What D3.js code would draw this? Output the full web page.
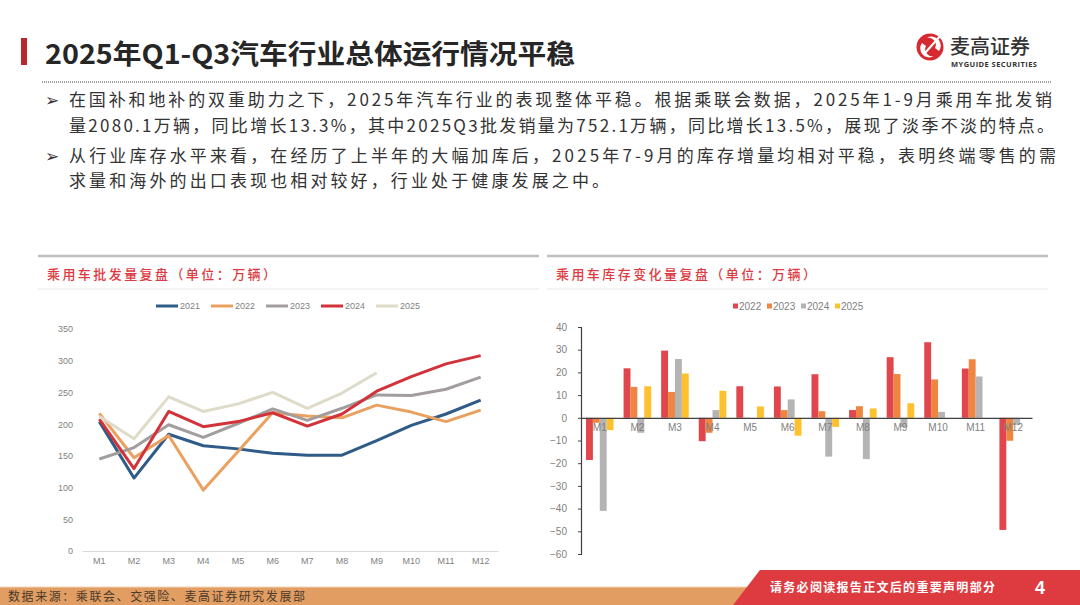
<!DOCTYPE html>
<html>
<head>
<meta charset="utf-8">
<script src="https://cdn.jsdelivr.net/npm/d3@7/dist/d3.min.js"></script>
<style>
  html, body { margin: 0; padding: 0; background: #fff; }
  svg { display: block; }
  text { font-family: "Noto Sans CJK SC", "Noto Sans", sans-serif; }
  .tick text { font-family: "Liberation Sans", Arial, sans-serif; }
</style>
</head>
<body>
<div id="page"></div>
<script>
// 乘用车批发量（万辆）
const months = ['M1', 'M2', 'M3', 'M4', 'M5', 'M6', 'M7', 'M8', 'M9', 'M10', 'M11', 'M12']
const wholesaleYears = ['2021', '2022', '2023', '2024', '2025']
const wholesale2021 = [204, 115, 184, 166, 161, 154, 151, 151, 174, 198, 216, 238]
const wholesale2022 = [217, 147, 182, 96, 157, 218, 213, 210, 230, 219, 204, 222]
const wholesale2023 = [145, 163, 199, 179, 201, 224, 206, 225, 246, 245, 255, 274]
const wholesale2024 = [208, 130, 220, 196, 204, 218, 197, 216, 252, 275, 295, 308]
const wholesale2025 = [212, 177, 243, 220, 232, 250, 225, 249, 281, null, null, null]
const wholesaleTicks = [0, 50, 100, 150, 200, 250, 300, 350]

// 乘用车库存变化量（万辆）
const inventoryYears = ['2022', '2023', '2024', '2025']
const inventory2022 = [-18.6, 21.8, 29.6, -10.3, 13.9, 13.8, 19.2, 3.4, 26.7, 33.3, 21.7, -49.4]
const inventory2023 = [-2.2, 13.6, 11.4, -6.6, -0.4, 3.4, 2.9, 5.1, 19.3, 16.9, 25.8, -10.1]
const inventory2024 = [-41.0, -6.6, 25.9, 3.4, 0, 8.1, -17.1, -18.2, -4.1, 2.6, 18.2, -3.2]
const inventory2025 = [-5.4, 13.9, 19.5, 11.9, 5.0, -7.9, -4.0, 4.1, 6.4, null, null, null]
const inventoryTicks = [-60, -50, -40, -30, -20, -10, 0, 10, 20, 30, 40]

const bodyLines = [
    '在国补和地补的双重助力之下，2025年汽车行业的表现整体平稳。根据乘联会数据，2025年1-9月乘用车批发销',
    '量2080.1万辆，同比增长13.3%，其中2025Q3批发销量为752.1万辆，同比增长13.5%，展现了淡季不淡的特点。',
    '从行业库存水平来看，在经历了上半年的大幅加库后，2025年7-9月的库存增量均相对平稳，表明终端零售的需',
    '求量和海外的出口表现也相对较好，行业处于健康发展之中。'
]

const W = 1080
const H = 605
const svg = d3.select('#page').append('svg')
    .attr('width', W)
    .attr('height', H)

function drawHeader () {
    // 标题
    svg.append('rect')
        .attr('x', 21).attr('y', 38)
        .attr('width', 6).attr('height', 27)
        .attr('fill', '#B8282E')
    svg.append('text')
        .attr('x', 45).attr('y', 64)
        .attr('font-size', 27)
        .attr('font-weight', 700)
        .attr('fill', '#262626')
        .attr('textLength', 530)
        .attr('lengthAdjust', 'spacingAndGlyphs')
        .text('2025年Q1-Q3汽车行业总体运行情况平稳')

    svg.append('line')
        .attr('x1', 42).attr('x2', 1052)
        .attr('y1', 82).attr('y2', 82)
        .attr('stroke', '#808080')
        .attr('stroke-width', 1.5)
        .attr('stroke-dasharray', '1 1')

    // logo
    const logo = svg.append('g').attr('transform', 'translate(930, 47)')
    logo.append('circle').attr('r', 13.5).attr('fill', '#D62A30')
    logo.append('path')
        .attr('d', 'M -8 -4 A 9 9 0 0 0 4 9 A 7 7 0 0 1 -4 -1 Z')
        .attr('fill', '#fff')
    logo.append('path')
        .attr('d', 'M 9 4 A 9 9 0 0 0 -3 -9 A 7 7 0 0 1 5 1 Z')
        .attr('fill', '#fff')
    logo.append('line')
        .attr('x1', -5).attr('y1', 6).attr('x2', 11).attr('y2', -12)
        .attr('stroke', '#fff').attr('stroke-width', 2)
    svg.append('text')
        .attr('x', 950).attr('y', 54)
        .attr('font-size', 20)
        .attr('font-weight', 500)
        .attr('fill', '#333')
        .attr('textLength', 80)
        .text('麦高证券')
    svg.append('text')
        .attr('x', 951).attr('y', 67)
        .attr('font-size', 7.5)
        .attr('font-weight', 700)
        .attr('fill', '#333')
        .attr('textLength', 86)
        .style('font-family', '"Open Sans", sans-serif')
        .text('MYGUIDE SECURITIES')

    // 正文
    const baselines = [106, 132, 162, 187]
    const lengths = [983, 985, 987, 540]
    ;[0, 2].forEach(i => {
        svg.append('text')
            .attr('x', 45).attr('y', baselines[i])
            .attr('font-size', 17)
            .attr('fill', '#333')
            .style('font-family', '"DejaVu Sans", sans-serif')
            .text('➢')
    })
    bodyLines.forEach((line, i) => {
        svg.append('text')
            .attr('x', 69).attr('y', baselines[i])
            .attr('font-size', 17)
            .attr('fill', '#333')
            .attr('textLength', lengths[i])
            .attr('lengthAdjust', 'spacing')
            .text(line)
    })
}

function drawPanel (x0, x1, title, titleLen) {
    svg.append('line')
        .attr('x1', x0).attr('x2', x1)
        .attr('y1', 256).attr('y2', 256)
        .attr('stroke', '#BFBFBF').attr('stroke-width', 2.5)
    svg.append('line')
        .attr('x1', x0).attr('x2', x1)
        .attr('y1', 289).attr('y2', 289)
        .attr('stroke', '#E6E6E6').attr('stroke-width', 1)
    svg.append('text')
        .attr('x', x0 + 9).attr('y', 279)
        .attr('font-size', 13)
        .attr('font-weight', 500)
        .attr('fill', '#DE3A42')
        .attr('textLength', titleLen)
        .attr('lengthAdjust', 'spacing')
        .text(title)
}

function drawLineChart () {
    const series = [wholesale2021, wholesale2022, wholesale2023, wholesale2024, wholesale2025]
    const colors = ['#2F5B88', '#EAA15F', '#A39E9E', '#D2323A', '#DEDBC9']

    const x = d3.scaleBand().domain(months).range([82, 498])
    const y = d3.scaleLinear().domain([0, 350]).range([551, 329])

    svg.append('g')
        .attr('transform', 'translate(82, 0)')
        .call(d3.axisLeft(y).tickValues(wholesaleTicks).tickSize(0).tickPadding(9))
        .call(g => g.select('.domain').remove())
        .call(g => g.selectAll('text').attr('font-size', 9).attr('fill', '#7F7F7F'))

    svg.append('g')
        .attr('transform', 'translate(0, 551)')
        .call(d3.axisBottom(x).tickSize(0).tickPadding(7))
        .call(g => g.select('.domain').attr('stroke', '#D9D9D9'))
        .call(g => g.selectAll('text').attr('font-size', 9).attr('fill', '#7F7F7F'))

    const line = d3.line()
        .defined(d => d != null)
        .x((d, i) => x(months[i]) + x.bandwidth() / 2)
        .y(d => y(d))

    svg.append('g')
        .selectAll('path')
        .data(series)
        .enter()
        .append('path')
        .attr('fill', 'none')
        .attr('stroke', (d, i) => colors[i])
        .attr('stroke-width', 3)
        .attr('stroke-linejoin', 'round')
        .attr('d', line)

    // 图例
    const legend = svg.append('g')
        .selectAll('g')
        .data(wholesaleYears)
        .enter()
        .append('g')
        .attr('transform', (d, i) => `translate(${156 + i * 55}, 306)`)
    legend.append('line')
        .attr('x1', 0).attr('x2', 22)
        .attr('stroke', (d, i) => colors[i])
        .attr('stroke-width', 3)
    legend.append('text')
        .attr('x', 24).attr('dy', '0.35em')
        .attr('font-size', 9)
        .attr('fill', '#7F7F7F')
        .style('font-family', '"Liberation Sans", Arial, sans-serif')
        .text(d => d)
}

function drawBarChart () {
    const series = [inventory2022, inventory2023, inventory2024, inventory2025]
    const colors = ['#E0464C', '#EE8641', '#B4B4B4', '#FFC02D']

    const x = d3.scaleBand().domain(months).range([581, 1032])
    const xSub = d3.scaleBand().domain(inventoryYears).range([5, x.bandwidth() - 5])
    const y = d3.scaleLinear().domain([-60, 40]).range([554, 327])

    const bars = []
    series.forEach((vals, s) => {
        vals.forEach((v, i) => {
            if (v != null) bars.push({ month: months[i], year: inventoryYears[s], value: v, color: colors[s] })
        })
    })

    svg.append('g')
        .selectAll('rect')
        .data(bars)
        .enter()
        .append('rect')
        .attr('x', d => x(d.month) + xSub(d.year))
        .attr('width', xSub.bandwidth())
        .attr('y', d => y(Math.max(d.value, 0)))
        .attr('height', d => Math.abs(y(d.value) - y(0)))
        .attr('fill', d => d.color)

    svg.append('g')
        .attr('transform', 'translate(581, 0)')
        .call(d3.axisLeft(y).tickValues(inventoryTicks).tickSize(3).tickPadding(11))
        .call(g => g.select('.domain').attr('stroke', '#404040').attr('stroke-width', 1.2))
        .call(g => g.selectAll('.tick line').attr('stroke', '#404040'))
        .call(g => g.selectAll('text').attr('font-size', 10).attr('fill', '#7F7F7F'))

    svg.append('g')
        .attr('transform', `translate(0, ${y(0)})`)
        .call(d3.axisBottom(x).tickSize(0).tickPadding(6))
        .call(g => g.select('.domain').attr('stroke', '#404040').attr('stroke-width', 1.2))
        .call(g => g.selectAll('text').attr('font-size', 10).attr('fill', '#7F7F7F'))

    // 图例
    const legend = svg.append('g')
        .selectAll('g')
        .data(inventoryYears)
        .enter()
        .append('g')
        .attr('transform', (d, i) => `translate(${733 + i * 34}, 306)`)
    legend.append('rect')
        .attr('x', 0).attr('y', -2.5)
        .attr('width', 5).attr('height', 5)
        .attr('fill', (d, i) => colors[i])
    legend.append('text')
        .attr('x', 6).attr('dy', '0.35em')
        .attr('font-size', 10)
        .attr('fill', '#7F7F7F')
        .style('font-family', '"Liberation Sans", Arial, sans-serif')
        .text(d => d)
}

function drawFooter () {
    svg.append('rect')
        .attr('x', 0).attr('y', 587)
        .attr('width', W).attr('height', H - 587)
        .attr('fill', '#E29E62')
    svg.append('line')
        .attr('x1', 0).attr('x2', W)
        .attr('y1', 587).attr('y2', 587)
        .attr('stroke', '#F3D3B5').attr('stroke-width', 1)
    svg.append('path')
        .attr('d', `M 760 570 L ${W} 570 L ${W} ${H} L 733 ${H} Z`)
        .attr('fill', '#DE3B40')
    svg.append('text')
        .attr('x', 8).attr('y', 601)
        .attr('font-size', 12)
        .attr('fill', '#4A3A2C')
        .attr('textLength', 297)
        .attr('lengthAdjust', 'spacing')
        .text('数据来源：乘联会、交强险、麦高证券研究发展部')
    svg.append('text')
        .attr('x', 770).attr('y', 592)
        .attr('font-size', 12)
        .attr('font-weight', 700)
        .attr('fill', '#fff')
        .attr('textLength', 225)
        .attr('lengthAdjust', 'spacing')
        .text('请务必阅读报告正文后的重要声明部分')
    svg.append('text')
        .attr('x', 1035).attr('y', 594)
        .attr('font-size', 18)
        .attr('font-weight', 700)
        .attr('fill', '#fff')
        .style('font-family', '"Liberation Sans", Arial, sans-serif')
        .text('4')
}

drawHeader()
drawPanel(38, 539, '乘用车批发量复盘（单位：万辆）', 229)
drawPanel(547, 1048, '乘用车库存变化量复盘（单位：万辆）', 260)
drawLineChart()
drawBarChart()
drawFooter()
</script>
</body>
</html>
